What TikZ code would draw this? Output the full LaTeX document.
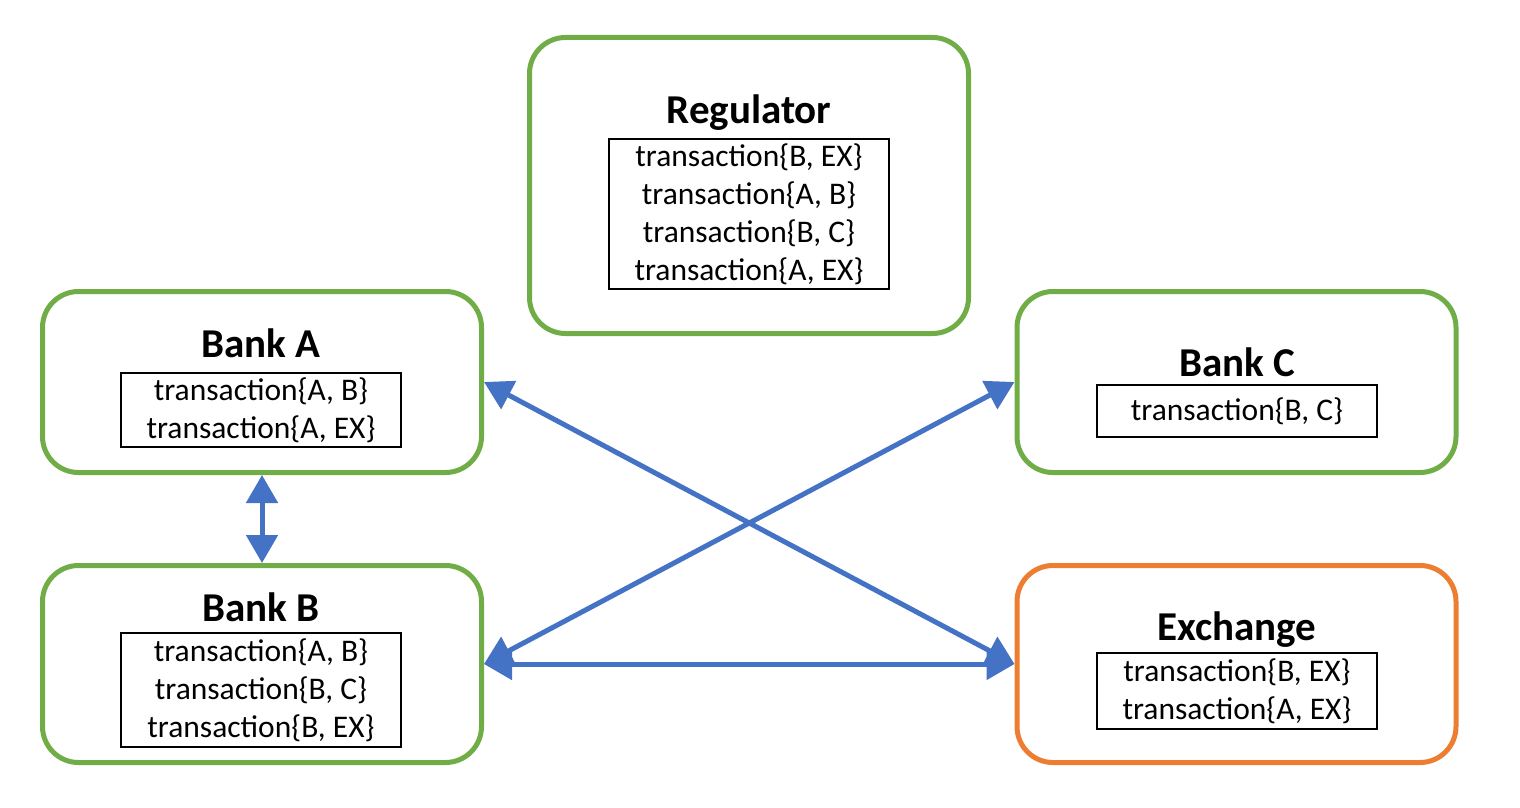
\documentclass[tikz,border=0pt]{standalone}
\usepackage{fontspec}
\setmainfont{Carlito}
\usetikzlibrary{arrows.meta}
\definecolor{grn}{HTML}{70AD47}
\definecolor{org}{HTML}{ED7D31}
\definecolor{blu}{HTML}{4472C4}
\begin{document}
\begin{tikzpicture}[x=1pt,y=-1pt,
  party/.style={draw=grn, line width=5pt, rounded corners=36pt, minimum width=439pt, inner sep=0pt},
  ledger/.style={draw=black, line width=1.8pt, minimum width=280pt, inner sep=0pt, align=center,
    font=\fontsize{31.5}{38}\selectfont},
  ttl/.style={anchor=base, inner sep=0pt, font=\fontsize{41}{49}\selectfont\bfseries},
  conn/.style={draw=blu, line width=5pt, {Triangle[length=28pt,width=31pt]}-{Triangle[length=28pt,width=31pt]}}
]
\useasboundingbox (0,0) rectangle (1520,808);

% outer boxes
\node[party, minimum height=296pt] (reg) at (749,185.5) {};
\node[party, minimum height=181pt] (bankA) at (262,382) {};
\node[party, minimum height=181pt] (bankC) at (1236.5,382) {};
\node[party, minimum height=197pt] (bankB) at (262,664) {};
\node[party, draw=org, minimum height=197pt] (exch) at (1236.5,664) {};

% titles
\node[ttl] (regT) at (749,123) {Regulator};
\node[ttl] (bankAT) at (261,357) {Bank A};
\node[ttl] (bankCT) at (1237,376) {Bank C};
\node[ttl] (bankBT) at (261,621) {Bank B};
\node[ttl] (exchT) at (1237,640) {Exchange};

% ledgers
\node[ledger, minimum height=150pt] (regL) at (749,214) {transaction\{B, EX\}\\ transaction\{A, B\}\\ transaction\{B, C\}\\ transaction\{A, EX\}};
\node[ledger, minimum height=74pt] (bankAL) at (261,410) {transaction\{A, B\}\\ transaction\{A, EX\}};
\node[ledger, minimum height=52pt] (bankCL) at (1237,411) {transaction\{B, C\}};
\node[ledger, minimum height=114pt] (bankBL) at (261,690) {transaction\{A, B\}\\ transaction\{B, C\}\\ transaction\{B, EX\}};
\node[ledger, minimum height=76pt] (exchL) at (1237,691) {transaction\{B, EX\}\\ transaction\{A, EX\}};

% connectors
\draw[conn] (bankA.south) -- (bankB.north);
\draw[conn] (bankA.east) -- (exch.west);
\draw[conn] (bankC.west) -- (bankB.east);
\draw[conn] (bankB.east) -- (exch.west);
\end{tikzpicture}
\end{document}
